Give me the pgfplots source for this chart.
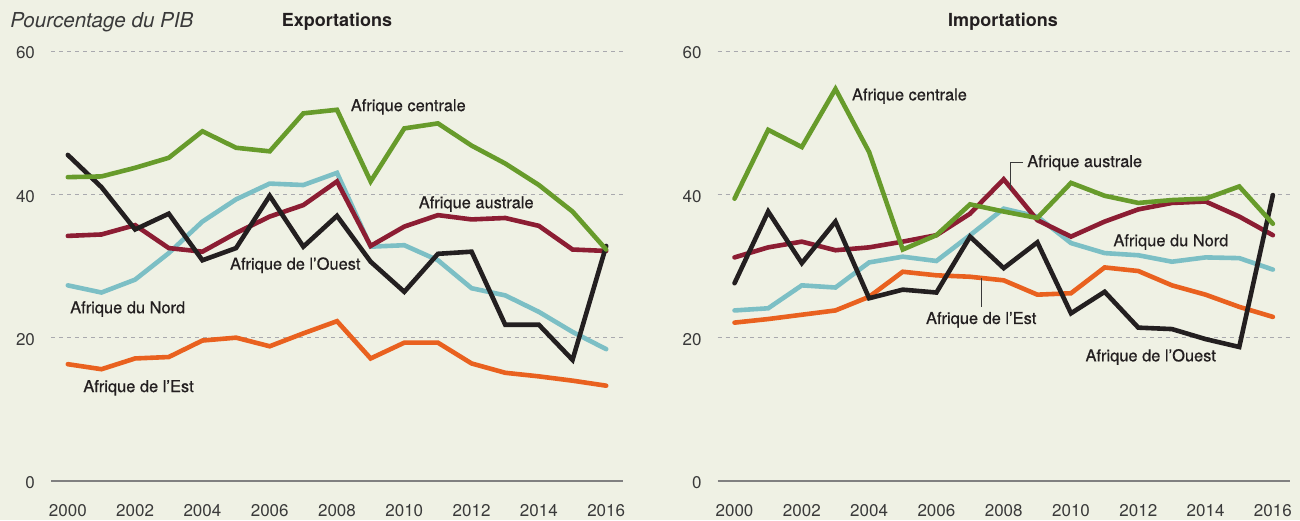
\documentclass[border=0pt]{standalone}
\usepackage{pgfplots}
\pgfplotsset{compat=1.18}
\usepackage{pgfplotstable}
\usepackage{fontspec}
\setmainfont{TeX Gyre Heros}
\newfontfamily\medfont{TeX Gyre Heros}[FakeBold=0.5]
\definecolor{bg}{HTML}{EFF1E4}
\definecolor{cgreen}{HTML}{679B2B}
\definecolor{cred}{HTML}{8C1D33}
\definecolor{ccyan}{HTML}{7CBFC5}
\definecolor{cblack}{HTML}{231F20}
\definecolor{corange}{HTML}{E9611F}
\definecolor{gridc}{HTML}{A9A9AE}
\definecolor{txt}{HTML}{3A3A3A}

\pgfplotstableread{
year c a n o e
2000 42.4 34.2 27.3 45.5 16.3
2001 42.5 34.4 26.3 41.0 15.6
2002 43.7 35.7 28.1 35.1 17.1
2003 45.1 32.5 31.8 37.3 17.3
2004 48.8 32.0 36.2 30.8 19.6
2005 46.5 34.6 39.3 32.5 20.0
2006 46.0 36.9 41.5 39.8 18.8
2007 51.3 38.5 41.3 32.7 20.6
2008 51.8 41.8 43.0 37.0 22.3
2009 41.8 32.8 32.7 30.6 17.1
2010 49.2 35.5 32.9 26.4 19.3
2011 49.9 37.1 30.8 31.7 19.3
2012 46.8 36.5 26.9 32.0 16.4
2013 44.3 36.7 25.9 21.8 15.1
2014 41.3 35.6 23.6 21.8 14.6
2015 37.6 32.3 20.8 16.9 14.0
2016 32.3 32.1 18.4 32.8 13.3
}\exports

\pgfplotstableread{
year c a n o e
2000 39.4 31.2 23.8 27.6 22.1
2001 49.0 32.6 24.1 37.6 22.6
2002 46.6 33.4 27.3 30.4 23.2
2003 54.7 32.2 27.0 36.2 23.8
2004 45.9 32.6 30.5 25.5 25.7
2005 32.3 33.4 31.3 26.7 29.2
2006 34.3 34.3 30.7 26.3 28.7
2007 38.6 37.3 34.3 34.1 28.5
2008 37.6 42.1 38.0 29.7 28.0
2009 36.7 36.4 36.9 33.3 26.0
2010 41.6 34.1 33.2 23.4 26.2
2011 39.8 36.2 31.8 26.4 29.8
2012 38.8 37.9 31.5 21.4 29.3
2013 39.2 38.8 30.6 21.2 27.3
2014 39.4 39.0 31.2 19.8 26.0
2015 41.1 36.9 31.1 18.7 24.3
2016 35.9 34.3 29.5 39.9 22.9
}\imports

\pgfplotsset{
 panel/.style={scale only axis, width=286pt, height=215pt,
  xmin=1999.5, xmax=2016.5, ymin=0, ymax=60,
  axis line style={draw=none}, major tick length=0,
  xtick={2000,2002,...,2016}, ytick={0,20,40,60},
  ymajorgrids, grid style={gridc, line width=0.5pt, dash pattern=on 2pt off 2pt},
  /pgf/number format/assume math mode=true,
  /pgf/number format/1000 sep={},
  tick label style={font=\fontsize{8.5}{10}\selectfont, text=txt},
  xticklabel style={yshift=-8pt},
  yticklabel style={xshift=-4.5pt, yshift=-1pt},
  clip=false,
  every axis plot/.append style={line width=2.3pt, line join=miter, line cap=round},
 },
}
\tikzset{lab/.style={font=\medfont\fontsize{8.2}{10}\selectfont, text=cblack, anchor=west, inner sep=0pt},
 lead/.style={draw=txt, line width=0.5pt}}

\begin{document}
\begin{tikzpicture}[x=1pt,y=1pt]
\fill[bg] (0,0) rectangle (650,260);
\path[use as bounding box] (0,0) rectangle (650,260);

\begin{axis}[panel, at={(25.5pt,19.5pt)}, anchor=south west]
\draw[gray, line width=0.6pt] (axis cs:1999.5,0) -- (axis cs:2016.5,0);
\addplot[ccyan] table[x=year,y=n] {\exports};
\addplot[corange] table[x=year,y=e] {\exports};
\addplot[cred] table[x=year,y=a] {\exports};
\addplot[cblack] table[x=year,y=o] {\exports};
\addplot[cgreen] table[x=year,y=c] {\exports};
\node[lab] at (axis cs:2008.40,52.2) {Afrique centrale};
\node[lab] at (axis cs:2010.42,38.65) {Afrique australe};
\node[lab] at (axis cs:2004.81,30.1) {Afrique de l’Ouest};
\node[lab] at (axis cs:2000.06,24.0) {Afrique du Nord};
\node[lab] at (axis cs:2000.45,13.0) {Afrique de l’Est};
\end{axis}

\begin{axis}[panel, at={(358.85pt,19.5pt)}, anchor=south west]
\draw[gray, line width=0.6pt] (axis cs:1999.5,0) -- (axis cs:2016.5,0);
\addplot[ccyan] table[x=year,y=n] {\imports};
\addplot[corange] table[x=year,y=e] {\imports};
\addplot[cred] table[x=year,y=a] {\imports};
\addplot[cblack] table[x=year,y=o] {\imports};
\addplot[cgreen] table[x=year,y=c] {\imports};
\node[lab] at (axis cs:2003.48,53.7) {Afrique centrale};
\node[lab] at (axis cs:2008.69,44.4) {Afrique australe};
\draw[lead] (axis cs:2008.56,44.5) -- (axis cs:2008.21,44.5) -- (axis cs:2008.21,40.6);
\node[lab] at (axis cs:2011.25,33.35) {Afrique du Nord};
\node[lab] at (axis cs:2005.68,22.5) {Afrique de l’Est};
\draw[lead] (axis cs:2007.34,28.3) -- (axis cs:2007.34,24.3);
\node[lab] at (axis cs:2010.42,17.3) {Afrique de l’Ouest};
\end{axis}

\node[font=\itshape\fontsize{10.3}{12}\selectfont, text=txt, anchor=west, inner sep=0pt] at (5,249) {Pourcentage du PIB};
\node[font=\bfseries\fontsize{9}{11}\selectfont, text=cblack, inner sep=0pt] at (168.5,249) {Exportations};
\node[font=\bfseries\fontsize{9}{11}\selectfont, text=cblack, inner sep=0pt] at (501.5,249) {Importations};
\end{tikzpicture}
\end{document}
